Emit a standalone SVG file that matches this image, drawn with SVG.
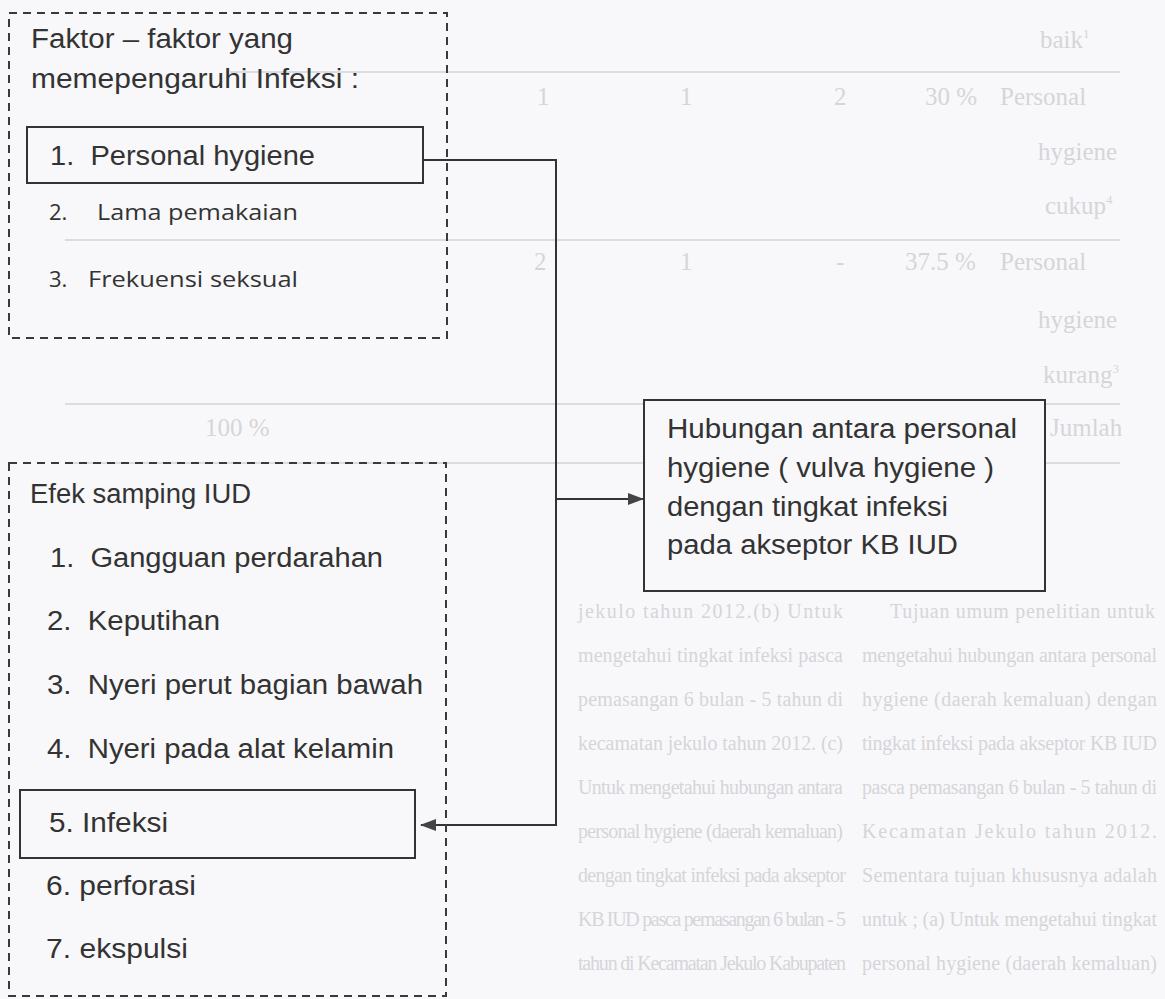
<svg xmlns="http://www.w3.org/2000/svg" width="1165" height="999" viewBox="0 0 1165 999">
<defs>
<style>
.bg{fill:#d5d5d9;font-family:"Liberation Serif",serif;font-size:25px}
.bgp{fill:#d5d5d9;font-family:"Liberation Serif",serif;font-size:20px}
.bgl{stroke:#dcdce0;stroke-width:2;fill:none}
.dash{fill:none;stroke:#3a3a3a;stroke-width:2;stroke-dasharray:8,6}
.solid{fill:#f8f8fa;stroke:#333;stroke-width:2}
.t{fill:#333;font-family:"Liberation Sans",Arial,sans-serif;font-size:27px}
.c{fill:#333;font-family:"Open Sans","Noto Sans",sans-serif;font-size:22px}
.conn{fill:none;stroke:#333;stroke-width:2}
</style>
<marker id="ah" markerWidth="16" markerHeight="12" refX="15" refY="6" orient="auto" markerUnits="userSpaceOnUse">
<path d="M0,0 L16,6 L0,12 Z" fill="#444"/>
</marker>
</defs>
<rect width="1165" height="999" fill="#f8f8fa"/>

<g id="page-background">
<line class="bgl" x1="230" y1="72" x2="1120" y2="72"/>
<line class="bgl" x1="65" y1="240" x2="1120" y2="240"/>
<line class="bgl" x1="65" y1="404" x2="1120" y2="404"/>
<line class="bgl" x1="65" y1="463" x2="1120" y2="463"/>
<text class="bg" x="1040" y="48">baik<tspan font-size="13" dy="-10">1</tspan></text>
<text class="bg" x="537" y="105">1</text>
<text class="bg" x="680" y="105">1</text>
<text class="bg" x="834" y="105">2</text>
<text class="bg" x="925" y="105">30 %</text>
<text class="bg" x="1000" y="105">Personal</text>
<text class="bg" x="1038" y="160">hygiene</text>
<text class="bg" x="1045" y="214">cukup<tspan font-size="13" dy="-10">4</tspan></text>
<text class="bg" x="534" y="270">2</text>
<text class="bg" x="680" y="270">1</text>
<text class="bg" x="836" y="270">-</text>
<text class="bg" x="905" y="270">37.5 %</text>
<text class="bg" x="1000" y="270">Personal</text>
<text class="bg" x="1038" y="328">hygiene</text>
<text class="bg" x="1043" y="383">kurang<tspan font-size="13" dy="-10">3</tspan></text>
<text class="bg" x="205" y="436">100 %</text>
<text class="bg" x="1050" y="436">Jumlah</text>
<text class="bgp" x="578" y="618" textLength="265" lengthAdjust="spacing">jekulo tahun 2012.(b) Untuk</text>
<text class="bgp" x="578" y="662" textLength="265" lengthAdjust="spacing">mengetahui tingkat infeksi pasca</text>
<text class="bgp" x="578" y="706" textLength="265" lengthAdjust="spacing">pemasangan 6 bulan - 5 tahun di</text>
<text class="bgp" x="578" y="750" textLength="265" lengthAdjust="spacing">kecamatan jekulo tahun 2012. (c)</text>
<text class="bgp" x="578" y="794" textLength="265" lengthAdjust="spacing">Untuk mengetahui hubungan antara</text>
<text class="bgp" x="578" y="838" textLength="265" lengthAdjust="spacing">personal hygiene (daerah kemaluan)</text>
<text class="bgp" x="578" y="882" textLength="268" lengthAdjust="spacing">dengan tingkat infeksi pada akseptor</text>
<text class="bgp" x="578" y="926" textLength="268" lengthAdjust="spacing">KB IUD pasca pemasangan 6 bulan - 5</text>
<text class="bgp" x="578" y="970" textLength="268" lengthAdjust="spacing">tahun di Kecamatan Jekulo Kabupaten</text>
<text class="bgp" x="890" y="618" textLength="265" lengthAdjust="spacing">Tujuan umum penelitian untuk</text>
<text class="bgp" x="862" y="662" textLength="295" lengthAdjust="spacing">mengetahui hubungan antara personal</text>
<text class="bgp" x="862" y="706" textLength="295" lengthAdjust="spacing">hygiene (daerah kemaluan) dengan</text>
<text class="bgp" x="862" y="750" textLength="295" lengthAdjust="spacing">tingkat infeksi pada akseptor KB IUD</text>
<text class="bgp" x="862" y="794" textLength="295" lengthAdjust="spacing">pasca pemasangan 6 bulan - 5 tahun di</text>
<text class="bgp" x="862" y="838" textLength="295" lengthAdjust="spacing">Kecamatan Jekulo tahun 2012.</text>
<text class="bgp" x="862" y="882" textLength="295" lengthAdjust="spacing">Sementara tujuan khususnya adalah</text>
<text class="bgp" x="862" y="926" textLength="295" lengthAdjust="spacing">untuk ; (a) Untuk mengetahui tingkat</text>
<text class="bgp" x="862" y="970" textLength="295" lengthAdjust="spacing">personal hygiene (daerah kemaluan)</text>
</g>

<g id="connectors">
<path class="conn" d="M423,160 H556 V825 H421" marker-end="url(#ah)"/>
<path class="conn" d="M556,499 H643" marker-end="url(#ah)"/>
</g>

<g id="faktor-group">
<rect class="dash" x="9" y="13" width="438" height="325"/>
<text class="t" x="31" y="48" textLength="262" lengthAdjust="spacingAndGlyphs">Faktor – faktor yang</text>
<text class="t" x="31" y="88" textLength="328" lengthAdjust="spacingAndGlyphs">memepengaruhi Infeksi  :</text>
</g>

<g id="personal-hygiene">
<rect class="solid" x="27" y="127" width="396" height="56"/>
<text class="t" x="50" y="165" font-size="29" textLength="265" lengthAdjust="spacingAndGlyphs" xml:space="preserve">1.  Personal hygiene</text>
</g>

<g id="lama-pemakaian">
<text class="c" x="49" y="220">2.</text>
<text class="c" x="97" y="220" textLength="201" lengthAdjust="spacingAndGlyphs">Lama pemakaian</text>
</g>

<g id="frekuensi-seksual">
<text class="c" x="49" y="287">3.</text>
<text class="c" x="88" y="287" textLength="210" lengthAdjust="spacingAndGlyphs">Frekuensi seksual</text>
</g>

<g id="hubungan">
<rect class="solid" x="644" y="400" width="401" height="191"/>
<text class="t" x="667" y="438" textLength="350" lengthAdjust="spacingAndGlyphs">Hubungan antara personal</text>
<text class="t" x="667" y="477" textLength="327" lengthAdjust="spacingAndGlyphs">hygiene ( vulva hygiene )</text>
<text class="t" x="667" y="516" textLength="281" lengthAdjust="spacingAndGlyphs">dengan tingkat infeksi</text>
<text class="t" x="667" y="554" textLength="291" lengthAdjust="spacingAndGlyphs">pada akseptor KB IUD</text>
</g>

<g id="efek-samping-group">
<rect class="dash" x="9" y="463" width="437" height="533"/>
<text class="t" x="30" y="503" textLength="221" lengthAdjust="spacingAndGlyphs">Efek samping IUD</text>
<text class="t" x="50" y="567" textLength="333" lengthAdjust="spacingAndGlyphs" xml:space="preserve">1.  Gangguan perdarahan</text>
<text class="t" x="47" y="630" textLength="173" lengthAdjust="spacingAndGlyphs" xml:space="preserve">2.  Keputihan</text>
<text class="t" x="47" y="694" textLength="376" lengthAdjust="spacingAndGlyphs" xml:space="preserve">3.  Nyeri perut bagian bawah</text>
<text class="t" x="47" y="758" textLength="347" lengthAdjust="spacingAndGlyphs" xml:space="preserve">4.  Nyeri pada alat kelamin</text>
<text class="t" x="46" y="895" textLength="150" lengthAdjust="spacingAndGlyphs">6. perforasi</text>
<text class="t" x="46" y="958" textLength="142" lengthAdjust="spacingAndGlyphs">7. ekspulsi</text>
</g>

<g id="infeksi">
<rect class="solid" x="20" y="790" width="395" height="68"/>
<text class="t" x="49" y="832" textLength="119" lengthAdjust="spacingAndGlyphs">5. Infeksi</text>
</g>
</svg>
